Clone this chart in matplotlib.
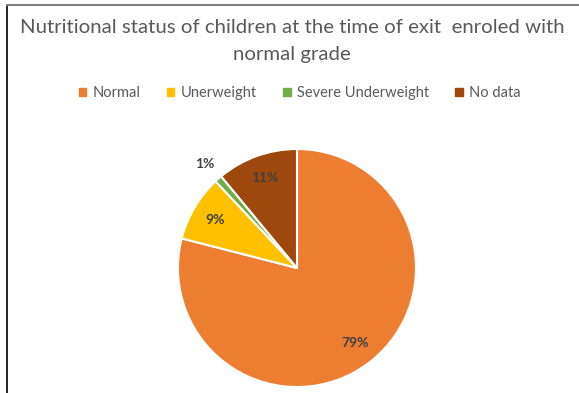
import numpy as np
import matplotlib
matplotlib.use("Agg")
import matplotlib.pyplot as plt
from matplotlib.lines import Line2D

# Data
categories = ["Normal", "Unerweight", "Severe Underweight", "No data"]
shares = [79, 9, 1, 11]
colors = ["#ED7D31", "#FFC000", "#70AD47", "#9E480E"]
title = "Nutritional status of children at the time of exit  enroled with\nnormal grade"

plt.rcParams["font.family"] = ["Lato", "DejaVu Sans"]

fig = plt.figure(figsize=(5.79, 3.93), dpi=100)

# Chart frame (top and left edges visible in the crop)
fig.add_artist(Line2D([7 / 579, 7 / 579], [0, 1 - 5 / 393], transform=fig.transFigure,
                      color="black", lw=1.2))
fig.add_artist(Line2D([7 / 579, 1], [1 - 5 / 393, 1 - 5 / 393], transform=fig.transFigure,
                      color="#808080", lw=1.5))

fig.text(292 / 579, 1 - 41 / 393, title, ha="center", va="center", fontsize=14.7,
         color="#595959", linespacing=1.65)

# Pie axes, centred where the reference pie sits
cx, cy, r = 297, 268, 119
ax = fig.add_axes([(cx - r) / 579, 1 - (cy + r) / 393, 2 * r / 579, 2 * r / 393])
wedges, _ = ax.pie(shares, colors=colors, startangle=90, counterclock=False,
                   wedgeprops=dict(edgecolor="white", linewidth=1.5))
ax.set_xlim(-1, 1)
ax.set_ylim(-1, 1)

for w, v in zip(wedges, shares):
    mid = np.deg2rad((w.theta1 + w.theta2) / 2)
    dist = 1.17 if v < 3 else 0.8
    ax.text(dist * np.cos(mid), dist * np.sin(mid), f"{v}%", ha="center", va="center",
            fontsize=10, fontweight="bold", color="#404040", clip_on=False)

handles = [plt.Rectangle((0, 0), 1, 1, color=c) for c in colors]
fig.legend(handles, categories, loc="center", bbox_to_anchor=(300 / 579, 1 - 93 / 393),
           ncol=4, frameon=False, fontsize=10.5, handlelength=0.5, handleheight=0.5,
           handletextpad=0.45, columnspacing=1.8, labelcolor="#595959")

fig.savefig("out.png", dpi=100, facecolor="white")
